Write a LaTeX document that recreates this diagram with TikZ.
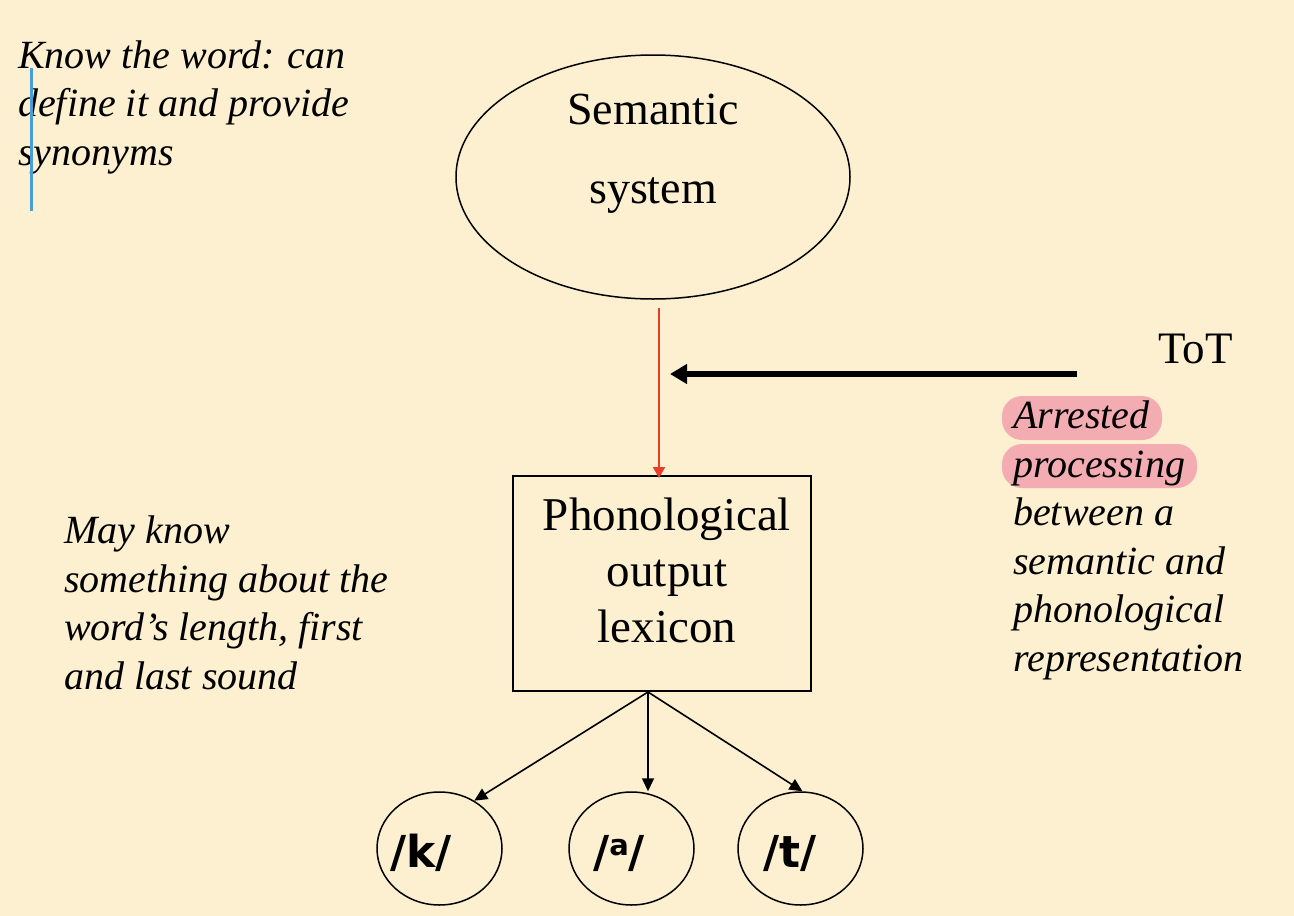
\documentclass[tikz,border=0pt]{standalone}
\usepackage{fontspec}
\setmainfont{Liberation Serif}
\newfontfamily\phonfont{DejaVu Sans}
\usetikzlibrary{shapes.geometric,arrows.meta}
\definecolor{bgcream}{RGB}{253,240,208}
\definecolor{arrred}{RGB}{235,60,40}
\definecolor{hlpink}{RGB}{242,172,178}
\definecolor{barblue}{RGB}{70,160,215}
\tikzset{
  oval/.style={draw, ellipse, line width=1.5pt, inner sep=0pt},
  txt/.style={inner sep=0pt, anchor=base west, align=left},
  ittxt/.style={txt, font=\fontsize{40}{48.5}\selectfont\itshape},
  thin arr/.style={line width=1.6pt, -{Triangle[length=13pt,width=12pt]}},
  phon/.style={inner sep=0pt, anchor=base west, font=\fontsize{44}{44}\selectfont\phonfont\bfseries},
  hl/.style={fill=hlpink, rounded corners=20pt},
}
\begin{document}
\begin{tikzpicture}[x=1pt,y=-1pt]
\useasboundingbox (0,0) rectangle (1294,916);
\fill[bgcream] (0,0) rectangle (1294,916);

% Semantic system
\node[oval, minimum width=394pt, minimum height=244pt] (sem) at (653,177) {};
\node[inner sep=0pt, anchor=base, align=center, font=\fontsize{46}{79}\selectfont] (semtxt) at (653,203) {Semantic\\system};

% Phonological output lexicon
\node[draw, line width=2pt, minimum width=298pt, minimum height=215pt, inner sep=0pt] (pol) at (662,583.5) {};
\node[inner sep=0pt, anchor=base, align=center, font=\fontsize{47}{56}\selectfont] (poltxt) at (667,642) {Phonological\\output\\lexicon};

% red arrow
\draw[arrred, line width=2pt, -{Triangle[length=11pt,width=12pt]}]
  ([xshift=6pt,yshift=-8pt]sem.south) -- ([xshift=-3pt,yshift=-3pt]pol.north);

% ToT and thick arrow
\node[inner sep=0pt, anchor=base west, font=\fontsize{45}{45}\selectfont] (tot) at (1158,363) {ToT};
\coordinate (totstart) at (1077,374);
\coordinate (totend) at (670,374);
\draw[line width=6.5pt, -{Triangle[length=17pt,width=19pt]}] (totstart) -- (totend);

% highlights and right text
\fill[hl] (1002,396) rectangle (1162,440);
\fill[hl] (1002,444) rectangle (1197,488);
\node[ittxt] (righttxt) at (1013,671) {Arrested\\processing\\between a\\semantic and\\phonological\\representation};

% left texts
\node[ittxt] (knowtxt) at (18,165) {Know the word: can\\define it and provide\\synonyms};
\fill[barblue] (29.5,68) rectangle (33,211);
\node[ittxt] (maytxt) at (64,689) {May know\\something about the\\word’s length, first\\and last sound};

% phoneme circles
\node[oval, minimum width=125pt, minimum height=113pt] (k) at (439.5,848.5) {};
\node[oval, minimum width=125pt, minimum height=113pt] (a) at (631.5,848.5) {};
\node[oval, minimum width=125pt, minimum height=113pt] (t) at (800.5,848.5) {};
\node[phon] (ktxt) at (390,867) {/k/};
\node[phon] (atxt) at (593,867) {/\raisebox{12pt}{\fontsize{29}{29}\selectfont a}/};
\node[phon] (ttxt) at (763,867) {/t/};

% fork arrows
\coordinate (fork) at ([xshift=-14pt]pol.south);
\draw[thin arr] (fork) -- (k.54);
\draw[thin arr] (fork) -- (fork |- a.north);
\draw[thin arr] (fork) -- (t.88);
\end{tikzpicture}
\end{document}
